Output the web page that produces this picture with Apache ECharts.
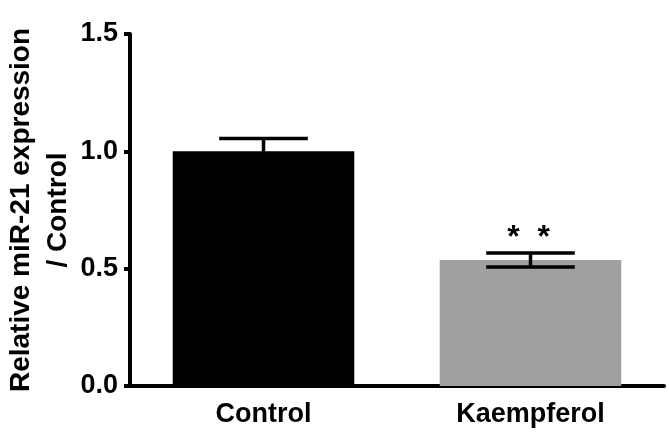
<!doctype html>
<html lang="en">
<head>
    <meta charset="UTF-8">
    <title>miR-21 expression</title>
    <style>
        html, body { margin: 0; padding: 0; background: #fff; }
        #main { width: 669px; height: 439px; }
    </style>
</head>
<body>
<div id="main"></div>
<script type="text/javascript" src="https://cdn.jsdelivr.net/npm/echarts@6/dist/echarts.min.js"></script>
<script type="text/javascript">
    // data
    var groups = ['Control', 'Kaempferol'];
    var means = [1.0, 0.537];
    var errs = [0.055, 0.03];
    var barColors = ['#000000', '#a0a0a0'];
    var marks = ['', '*  *'];
    var yTicks = [0, 0.5, 1.0, 1.5];

    var font = 'Liberation Sans, Arial, Helvetica, sans-serif';
    var myChart = echarts.init(document.getElementById('main'));

    var barData = [];
    var errData = [];
    for (var i = 0; i < groups.length; i++) {
        barData.push({value: means[i], itemStyle: {color: barColors[i]}});
        errData.push([i, means[i] - errs[i], means[i] + errs[i]]);
    }

    var option = {
        backgroundColor: '#fff',
        animation: false,
        grid: {left: 130, right: 5, top: 34, bottom: 53, containLabel: false, outerBoundsMode: 'none'},
        xAxis: {
            type: 'category',
            data: groups,
            axisLine: {lineStyle: {color: '#000', width: 4}},
            axisTick: {alignWithLabel: true, length: 9, lineStyle: {color: '#000', width: 4}},
            axisLabel: {color: '#000', fontSize: 27, fontWeight: 'bold', fontFamily: font, margin: 15}
        },
        yAxis: {
            type: 'value',
            min: yTicks[0],
            max: yTicks[yTicks.length - 1],
            interval: 0.5,
            name: 'Relative miR-21 expression\n/ Control',
            nameLocation: 'middle',
            nameGap: 53,
            nameMoveOverlap: false,
            nameTextStyle: {color: '#000', fontSize: 28, fontWeight: 'bold', fontFamily: font, lineHeight: 37},
            axisLine: {show: true, lineStyle: {color: '#000', width: 4}},
            axisTick: {show: true, length: 6, lineStyle: {color: '#000', width: 4}},
            axisLabel: {
                color: '#000', fontSize: 27, fontWeight: 'bold', fontFamily: font, margin: 12,
                formatter: function (v) { return v.toFixed(1); }
            },
            splitLine: {show: false}
        },
        series: [
            {
                type: 'bar',
                data: barData,
                barWidth: '68%'
            },
            {
                type: 'custom',
                z: 5,
                data: errData,
                renderItem: function (params, api) {
                    var x = api.value(0);
                    var lo = api.coord([x, api.value(1)]);
                    var hi = api.coord([x, api.value(2)]);
                    var hw = api.size([1, 0])[0] * 0.166;
                    var st = {stroke: '#000', lineWidth: 3.5};
                    var kids = [
                        {type: 'line', shape: {x1: hi[0], y1: hi[1], x2: lo[0], y2: lo[1]}, style: st},
                        {type: 'line', shape: {x1: hi[0] - hw, y1: hi[1], x2: hi[0] + hw, y2: hi[1]}, style: st},
                        {type: 'line', shape: {x1: lo[0] - hw, y1: lo[1], x2: lo[0] + hw, y2: lo[1]}, style: st}
                    ];
                    var m = marks[params.dataIndex];
                    if (m) {
                        kids.push({
                            type: 'text',
                            style: {
                                text: m, x: hi[0] - 2, y: hi[1] - 15,
                                fill: '#000', font: 'bold 32px ' + font,
                                align: 'center', verticalAlign: 'middle'
                            }
                        });
                    }
                    return {type: 'group', children: kids};
                }
            }
        ]
    };
    myChart.setOption(option);
</script>
</body>
</html>
